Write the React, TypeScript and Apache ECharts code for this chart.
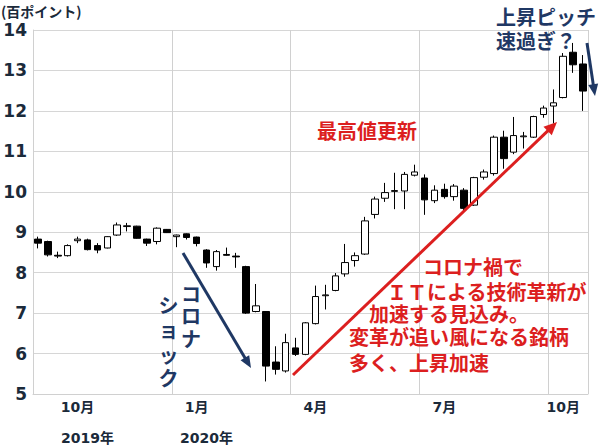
import React, { useEffect, useRef } from "react";
import * as echarts from "echarts";

// Weekly candles (Mon of each week)
const categories = [
  "2019/9/30", "2019/10/7", "2019/10/14", "2019/10/21", "2019/10/28", "2019/11/4", "2019/11/11",
  "2019/11/18", "2019/11/25", "2019/12/2", "2019/12/9", "2019/12/16", "2019/12/23", "2019/12/30",
  "2020/1/6", "2020/1/13", "2020/1/20", "2020/1/27", "2020/2/3", "2020/2/10", "2020/2/17",
  "2020/2/24", "2020/3/2", "2020/3/9", "2020/3/16", "2020/3/23", "2020/3/30", "2020/4/6",
  "2020/4/13", "2020/4/20", "2020/4/27", "2020/5/4", "2020/5/11", "2020/5/18", "2020/5/25",
  "2020/6/1", "2020/6/8", "2020/6/15", "2020/6/22", "2020/6/29", "2020/7/6", "2020/7/13",
  "2020/7/20", "2020/7/27", "2020/8/3", "2020/8/10", "2020/8/17", "2020/8/24", "2020/8/31",
  "2020/9/7", "2020/9/14", "2020/9/21", "2020/9/28", "2020/10/5", "2020/10/12", "2020/10/19",
];

const openValues = [
  8.83, 8.77, 8.43, 8.42, 8.79, 8.81, 8.67, 8.61, 8.93, 9.14, 9.15, 8.83, 8.77, 9.07,
  8.89, 8.96, 8.88, 8.56, 8.15, 8.45, 8.41, 8.15, 7.04, 7.04, 5.79, 5.57, 6.14, 5.98,
  6.74, 7.43, 7.56, 7.97, 8.30, 8.46, 9.44, 9.84, 10.01, 10.02, 10.41, 10.34, 9.78, 10.06,
  9.88, 10.04, 9.67, 10.36, 10.45, 11.35, 10.98, 11.36, 11.35, 11.91, 12.12, 12.33, 13.45, 13.16,
];
const closeValues = [
  8.73, 8.44, 8.41, 8.67, 8.83, 8.57, 8.56, 8.89, 9.18, 9.16, 8.85, 8.73, 9.10, 8.99,
  8.93, 8.87, 8.72, 8.24, 8.52, 8.43, 8.39, 7.00, 7.18, 5.69, 5.61, 6.27, 5.98, 6.76,
  7.41, 7.45, 7.92, 8.25, 8.42, 9.28, 9.82, 9.98, 10.03, 10.43, 10.49, 9.80, 10.04, 9.88,
  10.14, 9.59, 10.35, 10.49, 11.35, 10.82, 11.39, 11.38, 11.86, 12.07, 12.20, 13.35, 13.14, 12.49,
];
const lowValues = [
  8.60, 8.40, 8.36, 8.40, 8.73, 8.55, 8.48, 8.60, 8.91, 9.02, 8.84, 8.66, 8.70, 8.98,
  8.63, 8.82, 8.65, 8.12, 8.05, 8.42, 8.12, 6.98, 7.02, 5.31, 5.48, 5.53, 5.94, 5.96,
  6.72, 7.09, 7.54, 7.90, 8.15, 8.44, 9.34, 9.75, 9.57, 9.57, 10.38, 9.43, 9.72, 9.83,
  9.78, 9.54, 9.65, 10.30, 10.40, 10.57, 10.93, 11.07, 11.33, 11.83, 11.69, 12.31, 12.94, 12.00,
];
const highValues = [
  8.89, 8.79, 8.52, 8.70, 8.89, 8.84, 8.73, 8.90, 9.24, 9.23, 9.16, 8.84, 9.12, 9.08,
  8.94, 8.97, 8.89, 8.58, 8.56, 8.62, 8.49, 8.17, 7.72, 7.05, 6.18, 6.49, 6.39, 6.78,
  7.68, 7.70, 7.99, 8.71, 8.50, 9.38, 9.88, 10.22, 10.47, 10.49, 10.67, 10.43, 10.16, 10.20,
  10.19, 10.09, 10.37, 10.55, 11.39, 11.51, 11.85, 11.48, 11.88, 12.13, 12.53, 13.43, 13.68, 13.38,
];

// Axis labels
const monthLabelIndex = [4, 16, 28, 41, 53];
const monthLabels = ["10月", "1月", "4月", "7月", "10月"];
const yearLabelIndex = [5, 17];
const yearLabels = ["2019年", "2020年"];
const quarterGridIndex = [14, 26, 39, 52];
const yTickMin = 5;
const yTickMax = 14;
const yTickStep = 1;
const unitLabel = "(百ポイント)";

const redLines = [
  "コロナ禍で",
  "ＩＴによる技術革新が",
  "加速する見込み。",
  "変革が追い風になる銘柄",
  "多く、上昇加速",
];
const shockCol1 = ["コ", "ロ", "ナ"];
const shockCol2 = ["シ", "ョ", "ッ", "ク"];

const NAVY = "#1f3864";
const RED = "#dc1f1f";
const AXIS_TXT = "#1b2a3a";
const JP = '"Noto Sans CJK JP", sans-serif';

function arrow(x1: number, y1: number, x2: number, y2: number, color: string, w: number, hl: number, hw: number) {
  const dx = x2 - x1, dy = y2 - y1;
  const L = Math.hypot(dx, dy);
  const ux = dx / L, uy = dy / L;
  const bx = x2 - ux * hl, by = y2 - uy * hl;
  const px = -uy, py = ux;
  return [
    { type: "line", z: 50, shape: { x1, y1, x2: bx + ux * 2, y2: by + uy * 2 }, style: { stroke: color, lineWidth: w } },
    {
      type: "polygon", z: 50,
      shape: { points: [[x2, y2], [bx + px * hw, by + py * hw], [bx - px * hw, by - py * hw]] },
      style: { fill: color },
    },
  ];
}

function txt(text: string, x: number, y: number, color: string, size: number, align = "left") {
  return {
    type: "text", z: 60, x, y,
    style: {
      text, fill: color, font: `bold ${size}px ${JP}`, textAlign: align, textVerticalAlign: "middle",
      lineHeight: size,
    },
  };
}

export default function App() {
  const ref = useRef<HTMLDivElement>(null);
  useEffect(() => {
    if (!ref.current) return;
    const chart = echarts.init(ref.current, null, { renderer: "svg" });
    const data = categories.map((_, i) => [openValues[i], closeValues[i], lowValues[i], highValues[i]]);
    const redYs = [266, 291, 313.5, 336, 362];
    const redXs = [423, 387, 369, 349, 349];
    const col1Ys = [293.5, 315.5, 338.5];
    const col2Ys = [304, 329, 354, 377];
    chart.setOption({
      animation: false,
      backgroundColor: "#ffffff",
      grid: { left: 33, right: 12, top: 30, bottom: 53 },
      xAxis: [
        {
          type: "category",
          data: categories,
          boundaryGap: true,
          axisLine: { show: true, lineStyle: { color: "#d0d0d0", width: 1 } },
          axisTick: { show: false },
          splitLine: {
            show: true,
            interval: (index: number) => quarterGridIndex.includes(index),
            lineStyle: { color: "#d0d0d0", width: 1 },
          },
          axisLabel: {
            interval: (index: number) => monthLabelIndex.includes(index),
            formatter: (_v: string, index: number) => {
              const k = monthLabelIndex.indexOf(index);
              return k >= 0 ? monthLabels[k] : "";
            },
            color: AXIS_TXT,
            fontWeight: "bold",
            fontSize: 14,
            fontFamily: '"DejaVu Sans", "Noto Sans CJK JP", sans-serif',
            margin: 6,
          },
        },
        {
          type: "category",
          data: categories,
          position: "bottom",
          offset: 31,
          boundaryGap: true,
          axisLine: { show: false },
          axisTick: { show: false },
          splitLine: { show: false },
          axisLabel: {
            interval: (index: number) => yearLabelIndex.includes(index),
            formatter: (_v: string, index: number) => {
              const k = yearLabelIndex.indexOf(index);
              return k >= 0 ? yearLabels[k] : "";
            },
            color: AXIS_TXT,
            fontWeight: "bold",
            fontSize: 14,
            fontFamily: '"DejaVu Sans", "Noto Sans CJK JP", sans-serif',
            margin: 6,
          },
        },
      ],
      yAxis: {
        type: "value",
        min: yTickMin,
        max: yTickMax,
        interval: yTickStep,
        axisLine: { show: true, lineStyle: { color: "#d0d0d0", width: 1 } },
        axisTick: { show: false },
        splitLine: { show: true, lineStyle: { color: "#d6d6d6", width: 1 } },
        axisLabel: {
          color: AXIS_TXT,
          fontWeight: "bold",
          fontSize: 17,
          fontFamily: '"DejaVu Sans", sans-serif',
          margin: 6,
        },
      },
      series: [
        {
          type: "candlestick",
          data,
          barWidth: 7,
          itemStyle: {
            color: "#ffffff",
            color0: "#000000",
            borderColor: "#000000",
            borderColor0: "#000000",
            borderWidth: 1,
          },
        },
      ],
      graphic: [
        txt(unitLabel, 1, 11, AXIS_TXT, 14),
        ...arrow(183, 253, 251, 368, NAVY, 3, 12, 5),
        ...arrow(293, 375, 557, 122, RED, 3, 13, 6),
        ...arrow(587, 43, 595, 96, NAVY, 3, 12, 5),
        txt("最高値更新", 317, 130, RED, 20),
        ...redLines.map((t, i) => txt(t, redXs[i], redYs[i], RED, 20)),
        txt("上昇ピッチ", 496, 16.5, NAVY, 20),
        txt("速過ぎ？", 496, 40.5, NAVY, 20),
        ...shockCol1.map((c, i) => txt(c, 191, col1Ys[i], NAVY, 20, "center")),
        ...shockCol2.map((c, i) => txt(c, 168.5, col2Ys[i], NAVY, 20, "center")),
      ],
    });
    return () => chart.dispose();
  }, []);
  return <div ref={ref} style={{ width: 600, height: 447, position: "absolute", left: 0, top: 0 }} />;
}
